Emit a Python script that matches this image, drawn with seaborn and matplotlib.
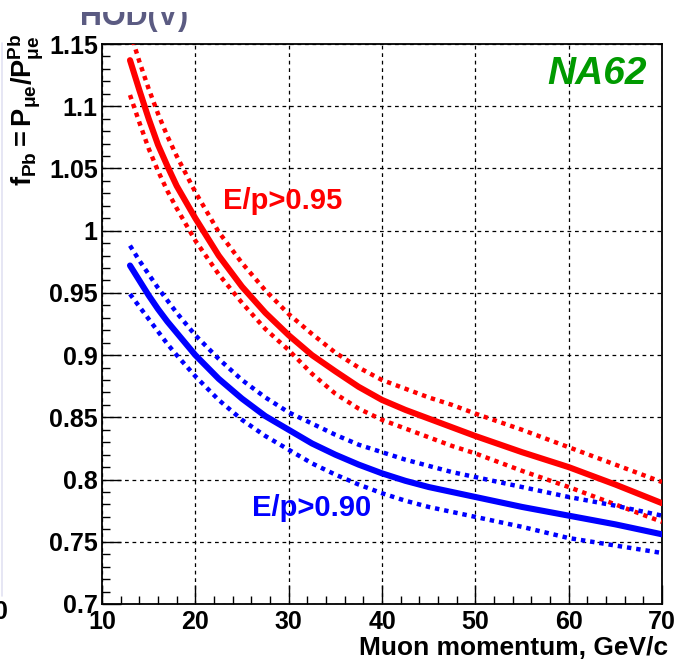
import matplotlib
matplotlib.use("Agg")
import matplotlib.pyplot as plt
import matplotlib.ticker as mticker
from matplotlib.patches import Rectangle
from matplotlib.lines import Line2D
import seaborn as sns
import pandas as pd

# ---------------- data ----------------
momentum = [13, 14, 15, 16, 17, 18, 20, 22.5, 25, 27.5, 30, 32.5, 35, 37.5, 40,
            42.5, 45, 47.5, 50, 55, 60, 65, 70]

red_central = [1.137, 1.113, 1.090, 1.069, 1.052, 1.036, 1.010, 0.980, 0.955, 0.934,
               0.916, 0.900, 0.887, 0.8745, 0.864, 0.856, 0.849, 0.842, 0.835,
               0.822, 0.810, 0.796, 0.781]
red_upper = [1.160, 1.136, 1.114, 1.094, 1.076, 1.060, 1.031, 0.999, 0.974, 0.952,
             0.933, 0.917, 0.902, 0.890, 0.880, 0.873, 0.866, 0.860, 0.853,
             0.840, 0.826, 0.812, 0.798]
red_lower = [1.109, 1.087, 1.066, 1.048, 1.032, 1.018, 0.992, 0.965, 0.942, 0.921,
             0.904, 0.885, 0.869, 0.857, 0.848, 0.841, 0.834, 0.827, 0.821,
             0.807, 0.794, 0.780, 0.766]

blue_central = [0.972, 0.960, 0.948, 0.937, 0.927, 0.918, 0.900, 0.881, 0.865, 0.851,
                0.840, 0.829, 0.820, 0.812, 0.805, 0.799, 0.794, 0.790, 0.786,
                0.778, 0.771, 0.764, 0.756]
blue_upper = [0.988, 0.976, 0.965, 0.954, 0.944, 0.934, 0.916, 0.897, 0.880, 0.866,
              0.854, 0.845, 0.836, 0.828, 0.822, 0.816, 0.811, 0.806, 0.802,
              0.794, 0.786, 0.779, 0.771]
blue_lower = [0.949, 0.939, 0.929, 0.919, 0.909, 0.900, 0.883, 0.864, 0.848, 0.835,
              0.824, 0.813, 0.804, 0.796, 0.789, 0.783, 0.778, 0.774, 0.770,
              0.762, 0.753, 0.747, 0.741]

x_ticks = [10, 20, 30, 40, 50, 60, 70]
y_ticks = [0.7, 0.75, 0.8, 0.85, 0.9, 0.95, 1.0, 1.05, 1.1, 1.15]

label_095 = "E/p>0.95"
label_090 = "E/p>0.90"
x_title = "Muon momentum, GeV/c"
y_title = r"$\mathbf{f_{Pb} = P_{\mu e} / P_{\mu e}^{Pb}}$"
experiment = "NA62"

# ---------------- style ----------------
sns.set_theme(style="white")
plt.rcParams["font.family"] = ["Liberation Sans", "DejaVu Sans"]
plt.rcParams["font.weight"] = "bold"
plt.rcParams["mathtext.fontset"] = "custom"
plt.rcParams["mathtext.rm"] = "Liberation Sans:bold"
plt.rcParams["mathtext.bf"] = "Liberation Sans:bold"
plt.rcParams["mathtext.it"] = "Liberation Sans:bold"

fig = plt.figure(figsize=(6.77, 6.60), dpi=100)
ax = fig.add_axes([102 / 677, 1 - 604 / 660, 560 / 677, 560 / 660])

RED = "#ff0000"
BLUE = "#0000ff"
DOT = (0, (1, 1.1))
series = [
    (red_central, RED, "-", 4.4),
    (red_upper, RED, DOT, 3.2),
    (red_lower, RED, DOT, 3.2),
    (blue_central, BLUE, "-", 4.4),
    (blue_upper, BLUE, DOT, 3.2),
    (blue_lower, BLUE, DOT, 3.2),
]
for vals, col, ls, lw in series:
    df = pd.DataFrame({"p": momentum, "f": vals})
    sns.lineplot(data=df, x="p", y="f", ax=ax, color=col, linestyle=ls,
                 linewidth=lw, estimator=None, sort=True, zorder=3)

ax.set_xlim(10, 70)
ax.set_ylim(0.7, 1.15)
ax.set_xlabel("")
ax.set_ylabel("")

ax.set_xticks(x_ticks)
ax.set_yticks(y_ticks)
ax.xaxis.set_minor_locator(mticker.MultipleLocator(2))
ax.yaxis.set_minor_locator(mticker.MultipleLocator(0.01))
ax.yaxis.set_major_formatter(mticker.FuncFormatter(lambda v, p: "%g" % round(v, 2)))
ax.xaxis.set_major_formatter(mticker.FuncFormatter(lambda v, p: "%d" % v))

ax.tick_params(axis="both", which="major", direction="in", length=14, width=1.0,
               color="black", labelsize=18, labelcolor="black")
ax.tick_params(axis="both", which="minor", direction="in", length=6, width=1.0,
               color="black")
ax.tick_params(axis="x", which="both", bottom=True, top=False, pad=4)
ax.tick_params(axis="y", which="both", left=True, right=False, pad=3)
for lab in ax.get_xticklabels() + ax.get_yticklabels():
    lab.set_fontweight("bold")

ax.grid(True, which="major", color="black", linestyle=(0, (3, 3)), linewidth=0.9)
for sp in ax.spines.values():
    sp.set_visible(True)
    sp.set_color("black")
    sp.set_linewidth(1.3)

# annotations
ax.text(29.3, 1.024, label_095, color=RED, fontsize=21, fontweight="bold",
        ha="center", va="center", zorder=4)
ax.text(32.5, 0.777, label_090, color=BLUE, fontsize=21, fontweight="bold",
        ha="center", va="center", zorder=4)
ax.text(0.884, 0.946, experiment, transform=ax.transAxes, color="#009a00",
        fontsize=28, fontweight="bold", fontstyle="italic", ha="center", va="center")

fig.text(668 / 677, 1 - 655 / 660, x_title, ha="right", va="baseline",
         fontsize=19, fontweight="bold", color="black")
fig.text(25 / 677, 1 - 33 / 660, y_title, rotation=90, ha="center", va="top",
         fontsize=19.5, color="black")

# cropped artefacts of the original slide
fig.text(80 / 677, 1 - 25 / 660, "HOD(V)", ha="left", va="baseline",
         fontsize=22, color="#5b5b82", fontweight="bold")
fig.add_artist(Rectangle((0, 1 - 11.5 / 660), 1, 11.5 / 660, transform=fig.transFigure,
                         facecolor="white", edgecolor="none", zorder=10))
fig.add_artist(Line2D([1.5 / 677, 1.5 / 677], [1 - 43 / 660, 1 - 596 / 660],
                      transform=fig.transFigure, color="#e2e2f2", linewidth=1.2))
fig.text(-6 / 677, 1 - 612 / 660, "0", ha="left", va="center",
         fontsize=18, fontweight="bold", color="black")

fig.savefig("out.png", dpi=100)
